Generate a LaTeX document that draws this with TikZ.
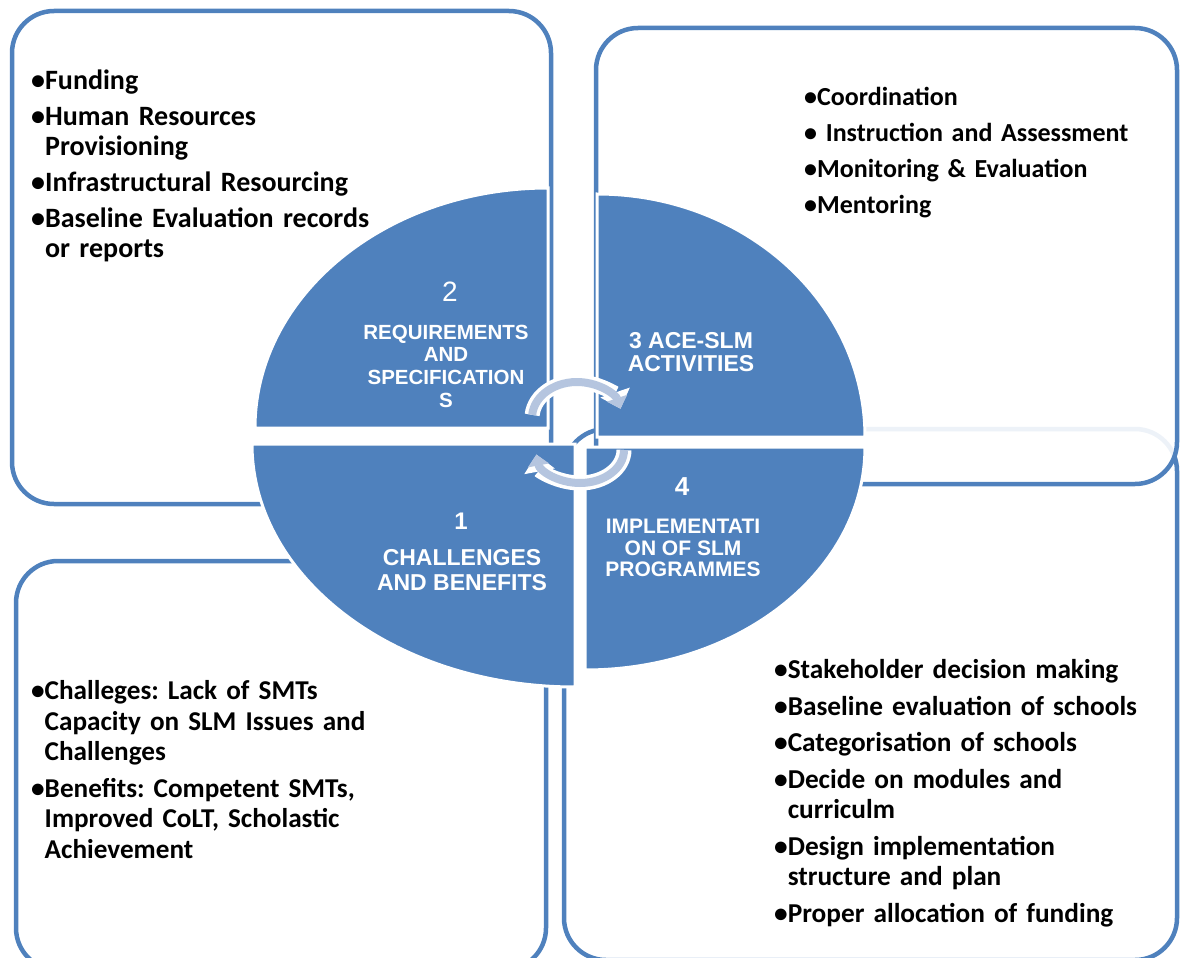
\documentclass[tikz,border=0pt]{standalone}
\usepackage{fontspec}
\setmainfont{Carlito}
\newfontfamily\arialf{Liberation Sans}
\usetikzlibrary{arrows.meta}
\definecolor{qblue}{HTML}{4F81BD}
\definecolor{arrblue}{HTML}{B5C5DF}
\newlength\bulw
\newcommand\bitem[1]{\par\noindent\hangindent=\bulw\hangafter=1 •#1\par}
\tikzset{
  box/.style={draw=qblue, line width=4.5pt, rounded corners=42pt},
  quad/.style={fill=qblue, draw=white, line width=3pt},
  listtxt/.style={anchor=north west, inner sep=0pt, text width=460pt,
    execute at begin node={\frenchspacing\settowidth\bulw{•}\setlength\parskip{6pt}\raggedright}},
  qtxt/.style={text=white, align=center, inner sep=0pt},
  arrw/.style={white, line width=15pt, -{Triangle[width=30pt,length=17pt]}},
  arrb/.style={arrblue, line width=8pt, -{Triangle[width=21pt,length=11pt]}},
}
\begin{document}
\begin{tikzpicture}[x=1pt, y=-1pt]
\useasboundingbox (0,0) rectangle (1181,958);
% boxes
\draw[box] (564,429) rectangle (1177,960);
\draw[box, fill=white, fill opacity=0.9] (596,28) rectangle (1177,484);
\draw[box] (12,11) rectangle (551,504);
\draw[box] (16,561) rectangle (546,970);
% quadrants
\path[quad] (255,428) arc[start angle=180, end angle=270, x radius=293, y radius=240] -- (548,428) -- cycle;
\path[quad] (597,194) arc[start angle=270, end angle=360, x radius=268, y radius=243] -- (597,437) -- cycle;
\path[quad] (252,444) arc[start angle=180, end angle=90, x radius=323, y radius=243] -- (575,444) -- cycle;
\path[quad] (585,670) arc[start angle=90, end angle=0, x radius=280, y radius=223] -- (585,447) -- cycle;
% circular arrows
\draw[arrw] (577,418) ++(185:45 and 36) arc[start angle=185, end angle=345, x radius=45, y radius=36];
\draw[arrb] (577,418) ++(185:45 and 36) arc[start angle=185, end angle=345, x radius=45, y radius=36];
\draw[arrw] (580,450) ++(0:44 and 33) arc[start angle=0, end angle=172, x radius=44, y radius=33];
\draw[arrb] (580,450) ++(0:44 and 33) arc[start angle=0, end angle=172, x radius=44, y radius=33];
% quadrant labels
\node[qtxt, font=\arialf\fontsize{28}{30}\selectfont] (n2) at (450,292) {2};
\node[qtxt, font=\arialf\bfseries\fontsize{20.5}{22.7}\selectfont] (t2) at (446,366) {REQUIREMENTS\\AND\\SPECIFICATION\\S};
\node[qtxt, font=\arialf\bfseries\fontsize{23}{23.5}\selectfont] (t3) at (691,352) {3 ACE-SLM\\ACTIVITIES};
\node[qtxt, font=\arialf\bfseries\fontsize{24}{26}\selectfont] (n1) at (461,521) {1};
\node[qtxt, font=\arialf\bfseries\fontsize{23}{25}\selectfont] (t1) at (462,570) {CHALLENGES\\AND BENEFITS};
\node[qtxt, font=\arialf\bfseries\fontsize{26}{28}\selectfont] (n4) at (682,487) {4};
\node[qtxt, font=\arialf\bfseries\fontsize{21}{21.5}\selectfont] (t4) at (683,548) {IMPLEMENTATI\\ON OF SLM\\PROGRAMMES};
% lists
\node[listtxt, font=\bfseries\fontsize{28}{30}\selectfont] (l2) at (31,53) {\bitem{Funding}\bitem{Human Resources\newline Provisioning}\bitem{Infrastructural Resourcing}\bitem{Baseline Evaluation records\newline or reports}};
\node[listtxt, font=\bfseries\fontsize{26}{30}\selectfont] (l3) at (804,69) {\bitem{Coordination}\bitem{ Instruction and Assessment}\bitem{Monitoring \& Evaluation}\bitem{Mentoring}};
\node[listtxt, font=\bfseries\fontsize{27.2}{30.5}\selectfont] (l1) at (31,663) {\bitem{Challeges: Lack of SMTs\newline Capacity on SLM Issues and\newline Challenges}\bitem{Benefits: Competent SMTs,\newline Improved CoLT, Scholastic\newline Achievement}};
\node[listtxt, font=\bfseries\fontsize{27.3}{30.5}\selectfont] (l4) at (774,642) {\bitem{Stakeholder decision making}\bitem{Baseline evaluation of schools}\bitem{Categorisation of schools}\bitem{Decide on modules and\newline curriculm}\bitem{Design implementation\newline structure and plan}\bitem{Proper allocation of funding}};
\end{tikzpicture}
\end{document}
